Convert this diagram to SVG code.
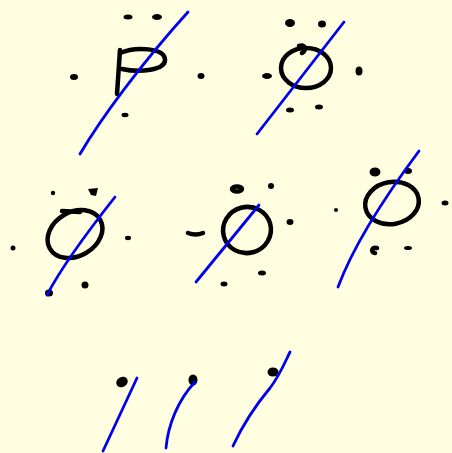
<svg xmlns="http://www.w3.org/2000/svg" width="452" height="453" viewBox="0 0 452 453">
<style>
.ink{fill:none;stroke:#000;stroke-width:4.5;stroke-linecap:round;stroke-linejoin:round}
.dot{fill:#000}
.blue{fill:none;stroke:#0000ee;stroke-width:2.8;stroke-linecap:round}
</style>
<rect width="452" height="453" fill="#fffee0"/>
<g id="p1">
<ellipse class="dot" cx="128" cy="17" rx="4.5" ry="2.5"/>
<ellipse class="dot" cx="157" cy="17" rx="5" ry="3"/>
<ellipse class="dot" cx="74" cy="77" rx="4" ry="3"/>
<ellipse class="dot" cx="201" cy="76" rx="3.5" ry="3"/>
<ellipse class="dot" cx="125" cy="115" rx="3.5" ry="2.2"/>
<path class="ink" d="M120,50 L117,94"/>
<path class="ink" d="M120,53 C136,46 165,48 165,60 C165,70 140,73 122,69" stroke-width="3.5"/>
<path class="blue" d="M80,154 C100,120 140,65 188,12"/>
</g>
<g id="p2">
<ellipse class="dot" cx="290" cy="23" rx="5" ry="4"/>
<ellipse class="dot" cx="322" cy="24" rx="4" ry="3.5"/>
<ellipse class="dot" cx="267" cy="76" rx="5" ry="3"/>
<ellipse class="dot" cx="359" cy="71" rx="3.5" ry="4.5"/>
<ellipse class="dot" cx="290" cy="110" rx="4" ry="2.5"/>
<ellipse class="dot" cx="319" cy="107" rx="4" ry="2.5"/>
<ellipse class="ink" cx="306" cy="68" rx="25" ry="20"/>
<path class="ink" d="M299,46 C305,44 307,50 302,53" stroke-width="3.5"/>
<path class="blue" d="M257,134 L344,22"/>
</g>
<g id="p3">
<circle class="dot" cx="53" cy="193" r="2.2"/>
<path class="dot" d="M88,189 L98,188 L96,196 L91,195 Z"/>
<circle class="dot" cx="13" cy="248" r="2.5"/>
<ellipse class="dot" cx="128" cy="238" rx="3" ry="2.2"/>
<ellipse class="dot" cx="85" cy="285" rx="3.5" ry="3.5"/>
<ellipse class="dot" cx="49" cy="293" rx="4" ry="3.5"/>
<ellipse class="ink" cx="75" cy="234" rx="29" ry="22" transform="rotate(-30 75 234)"/>
<path class="ink" d="M62,211 L80,212"/>
<path class="blue" d="M47,295 C60,270 85,235 115,197"/>
</g>
<g id="p4">
<ellipse class="ink" cx="237" cy="189" rx="5" ry="2.5" stroke-width="2.5"/>
<ellipse class="dot" cx="271" cy="186" rx="3" ry="3"/>
<path class="ink" d="M188,233 C193,235 198,235 203,233" stroke-width="3"/>
<ellipse class="dot" cx="290" cy="222" rx="3.5" ry="3"/>
<ellipse class="dot" cx="262" cy="273" rx="4" ry="2.5"/>
<ellipse class="dot" cx="224" cy="284" rx="3.5" ry="2.5"/>
<ellipse class="ink" cx="247" cy="230" rx="24" ry="23" transform="rotate(-15 247 230)"/>
<path class="blue" d="M196,282 L259,205"/>
</g>
<g id="p5">
<ellipse class="ink" cx="375" cy="172" rx="3.2" ry="2.2" stroke-width="2"/>
<ellipse class="dot" cx="408" cy="171" rx="4" ry="3"/>
<circle class="dot" cx="336" cy="210" r="2"/>
<ellipse class="dot" cx="445" cy="203" rx="3.5" ry="2.5"/>
<path class="ink" d="M377,248 C372,247 370,252 375,253" stroke-width="3"/>
<ellipse class="dot" cx="408" cy="248" rx="4" ry="2"/>
<ellipse class="ink" cx="392" cy="203" rx="27" ry="21" transform="rotate(-10 392 203)"/>
<path class="blue" d="M338,287 C350,255 375,210 419,151"/>
</g>
<g id="p6">
<ellipse class="dot" cx="122" cy="382" rx="6" ry="5" transform="rotate(-30 122 382)"/>
<path class="blue" d="M103,451 L137,378"/>
<ellipse class="dot" cx="193" cy="380" rx="4.5" ry="5.5"/>
<path class="blue" d="M166,448 C168,425 178,400 195,382"/>
<ellipse class="dot" cx="273" cy="372" rx="5.5" ry="4.5"/>
<path class="blue" d="M233,446 C245,420 260,400 270,388 C280,375 285,362 290,352"/>
</g>
</svg>
